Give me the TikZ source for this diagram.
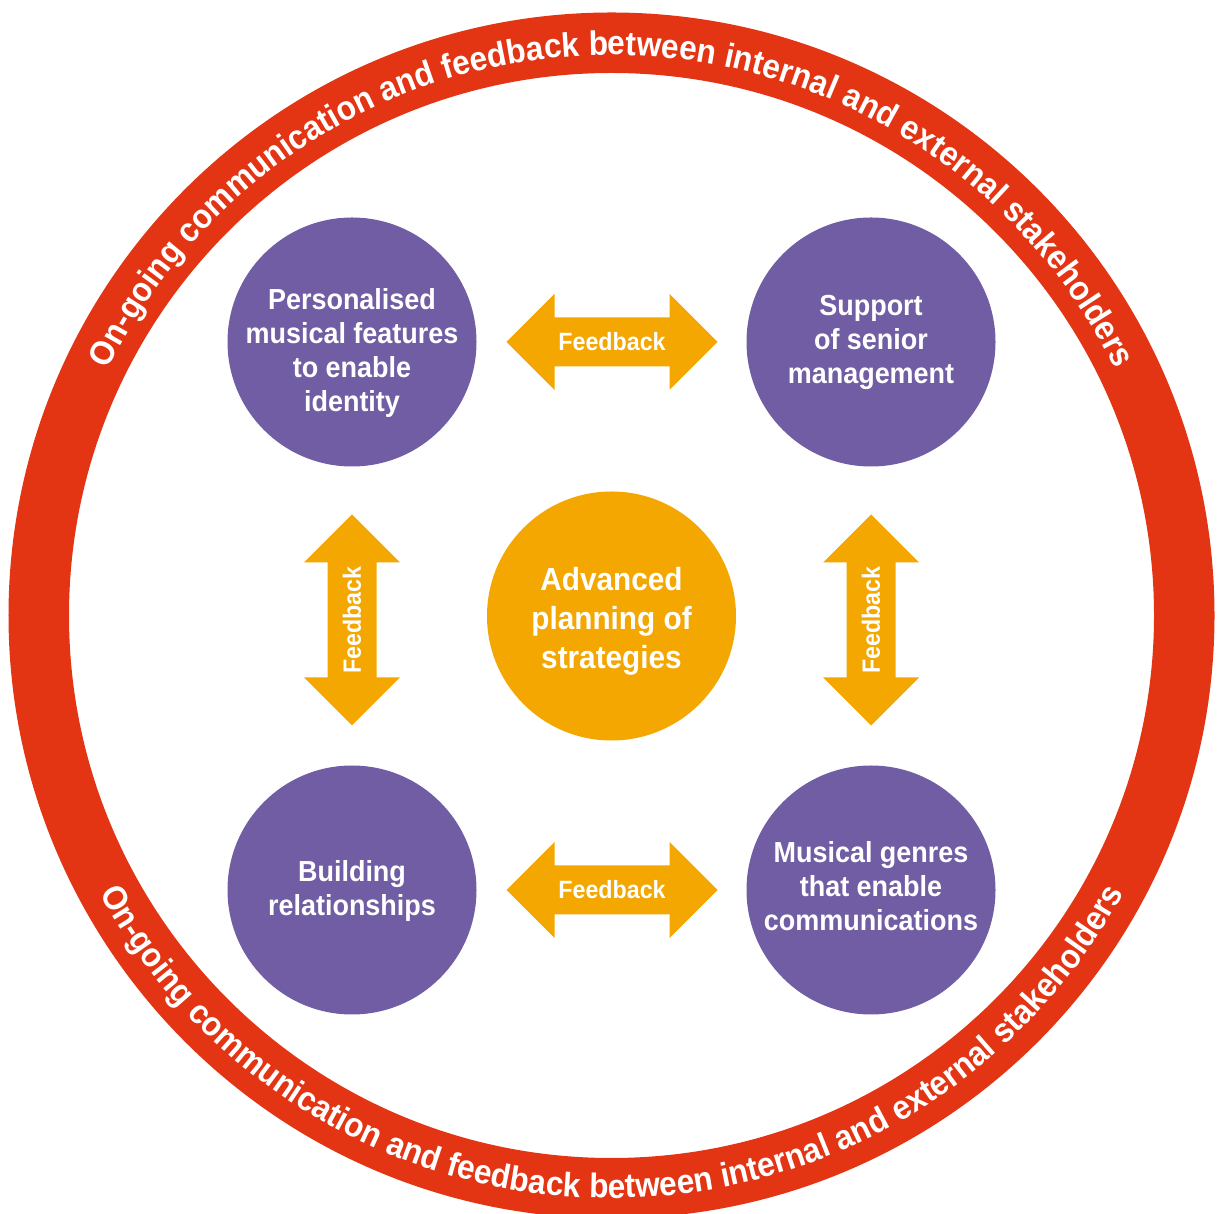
\documentclass[tikz,border=0pt]{standalone}
\usepackage{fontspec}
\setmainfont{Liberation Sans}[FakeStretch=0.93]
\usetikzlibrary{decorations.text,calc}
\definecolor{ringred}{HTML}{E33514}
\definecolor{circpurple}{HTML}{705DA3}
\definecolor{planorange}{HTML}{F3A700}
\newcommand{\ringfont}{\fontsize{34}{34}\selectfont\bfseries}
\newcommand{\fbarrowshape}[2]{%
  \begin{scope}[shift={(#1)}, rotate=#2]
    \fill[fbshape] (-105.5,0) -- (-57.5,48) -- (-57.5,24.5) -- (57.5,24.5) -- (57.5,48)
      -- (105.5,0) -- (57.5,-48) -- (57.5,-24.5) -- (-57.5,-24.5) -- (-57.5,-48) -- cycle;
  \end{scope}}
\begin{document}
\begin{tikzpicture}[x=1pt,y=1pt,
  topic/.style={circle, fill=circpurple, minimum size=249pt, inner sep=0pt},
  topictext/.style={text=white, align=center, inner sep=0pt, font=\fontsize{29}{34}\selectfont\bfseries},
  hub/.style={circle, fill=planorange, minimum size=249pt, inner sep=0pt},
  hubtext/.style={text=white, align=center, inner sep=0pt, font=\fontsize{32}{39}\selectfont\bfseries},
  fbshape/.style={fill=planorange},
  fblabel/.style={text=white, inner sep=0pt, font=\fontsize{25}{25}\selectfont\bfseries}
]
\useasboundingbox (0,0) rectangle (1218,1213);
\coordinate (ring) at (611.5,597.5);
\draw[ringred, line width=60.5pt] (ring) circle[radius=572.75pt];

\path[decorate, decoration={text along path, text align=center, text color=white,
  text={|\ringfont|On-going communication and feedback between internal and external stakeholders}}]
  (ring) ++(180:560.5pt) arc[start angle=180, end angle=0, radius=560.5pt];
\path[decorate, decoration={text along path, text align=center, text color=white,
  text={|\ringfont|On-going communication and feedback between internal and external stakeholders}}]
  (ring) ++(180:582.5pt) arc[start angle=180, end angle=360, radius=582.5pt];

\node[topic] (pers) at (352,871) {};
\node[topic] (supp) at (871,871) {};
\node[topic] (build) at (352,323) {};
\node[topic] (genre) at (871,323) {};
\node[hub] (plan) at (611.5,597) {};

\node[topictext] (perstext) at ($(pers)+(0,-11)$) {Personalised\\musical features\\to enable\\identity};
\node[topictext] (supptext) at (supp) {Support\\of senior\\management};
\node[topictext] (buildtext) at ($(build)+(0,-1.5)$) {Building\\relationships};
\node[topictext] (genretext) at ($(genre)+(0,3.5)$) {Musical genres\\that enable\\communications};
\node[hubtext] (plantext) at ($(plan)+(0,-5.5)$) {Advanced\\planning of\\strategies};

\coordinate (fbtop) at (612,871);
\coordinate (fbbottom) at (612,323);
\coordinate (fbleft) at (352,593);
\coordinate (fbright) at (871,593);

\fbarrowshape{fbtop}{0}
\fbarrowshape{fbbottom}{0}
\fbarrowshape{fbleft}{90}
\fbarrowshape{fbright}{90}

\node[fblabel] (fbtoplbl) at (fbtop) {Feedback};
\node[fblabel] (fbbottomlbl) at (fbbottom) {Feedback};
\node[fblabel, rotate=90] (fbleftlbl) at (fbleft) {Feedback};
\node[fblabel, rotate=90] (fbrightlbl) at (fbright) {Feedback};
\end{tikzpicture}
\end{document}
